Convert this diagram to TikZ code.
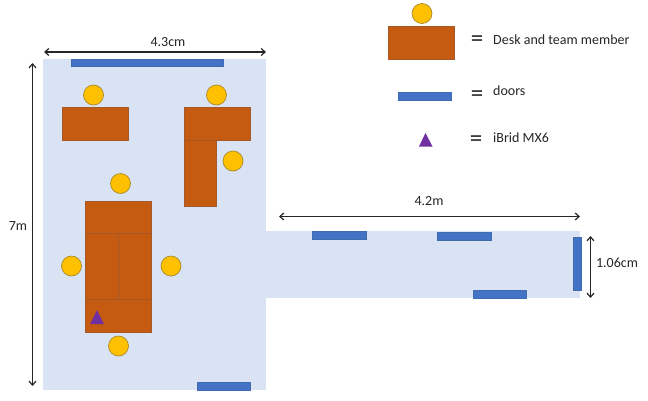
\documentclass[tikz,border=0pt]{standalone}
\usepackage{fontspec}
\setmainfont{Carlito}
\usetikzlibrary{arrows.meta}
\definecolor{roomc}{HTML}{DAE3F3}
\definecolor{deskc}{HTML}{C55A11}
\definecolor{deskl}{HTML}{A5582A}
\definecolor{doorc}{HTML}{4472C4}
\definecolor{doorl}{HTML}{3F6CB0}
\definecolor{personc}{HTML}{FFC000}
\definecolor{personl}{HTML}{A98A2A}
\definecolor{trianc}{HTML}{7030A0}
\definecolor{inkc}{HTML}{262626}
\tikzset{
  x=1pt,y=-1pt,
  room/.style={fill=roomc,draw=none},
  desk/.style={fill=deskc,draw=deskl,line width=0.7pt},
  door/.style={fill=doorc,draw=doorl,line width=0.4pt},
  person/.style={circle,fill=personc,draw=personl,line width=0.7pt,minimum size=20pt,inner sep=0pt},
  trian/.style={fill=trianc,draw=none},
  dim/.style={draw=inkc,line width=1.2pt,{Straight Barb[length=4pt,width=7pt]}-{Straight Barb[length=4pt,width=7pt]}},
  lab/.style={font=\fontsize{14}{16}\selectfont,text=inkc,inner sep=0pt},
  legendtext/.style={lab,anchor=west},
  eqs/.style={font=\fontsize{25}{26}\selectfont,text=inkc,inner sep=0pt}
}
\begin{document}
\begin{tikzpicture}
\useasboundingbox (0,0) rectangle (648,400);
% rooms
\fill[room] (43,59) rectangle (266,390);
\fill[room] (266,231) rectangle (580,298);
% doors
\draw[door] (71,59) rectangle (223,66);
\draw[door] (197,382.5) rectangle (250,390);
\draw[door] (312,231) rectangle (366,239);
\draw[door] (437,232) rectangle (491,240);
\draw[door] (473,290) rectangle (526,298);
\draw[door] (573,237) rectangle (581,290);
% desks
\draw[desk] (62,107) rectangle (128,140);
\draw[desk] (184,107) rectangle (250,140);
\draw[desk] (184,140) rectangle (216,206);
\draw[desk] (85,201) rectangle (151,233);
\draw[desk] (85,233) rectangle (118,299);
\draw[desk] (118,233) rectangle (151,299);
\draw[desk] (85,299) rectangle (151,332);
% people
\node[person] (p1) at (93.5,95) {};
\node[person] (p2) at (216.5,95) {};
\node[person] (p3) at (233,161) {};
\node[person] (p4) at (120.5,183.5) {};
\node[person] (p5) at (71.5,266) {};
\node[person] (p6) at (171,266) {};
\node[person] (p7) at (118.5,346) {};
% device
\fill[trian] (97,310) -- (104,324) -- (90,324) -- cycle;
% dimensions
\coordinate (a1) at (44,52); \coordinate (a2) at (266,52);
\draw[dim] (a1) -- (a2);
\node[lab] (l1) at (168,42) {4.3cm};
\coordinate (b1) at (32.5,63); \coordinate (b2) at (32.5,386);
\draw[dim] (b1) -- (b2);
\node[lab] (l2) at (18,226) {7m};
\coordinate (c1) at (279,216.5); \coordinate (c2) at (580,216.5);
\draw[dim] (c1) -- (c2);
\node[lab] (l3) at (429,201) {4.2m};
\coordinate (d1) at (590.5,236); \coordinate (d2) at (590.5,298);
\draw[dim] (d1) -- (d2);
\node[lab] (l4) at (617,263) {1.06cm};
% legend
\node[person] (k1) at (422,13.5) {};
\draw[desk] (388,26) rectangle (454,59);
\draw[door] (398,92.5) rectangle (451,100);
\fill[trian] (425.5,133) -- (432.5,146.5) -- (419,146.5) -- cycle;
\node[eqs] (e1) at (477,41) {=};
\node[eqs] (e2) at (477,96) {=};
\node[eqs] (e3) at (476,141) {=};
\node[legendtext] (t1) at (493,39.5) {Desk and team member};
\node[legendtext] (t2) at (493,91) {doors};
\node[legendtext] (t3) at (493,138) {iBrid MX6};
\end{tikzpicture}
\end{document}
